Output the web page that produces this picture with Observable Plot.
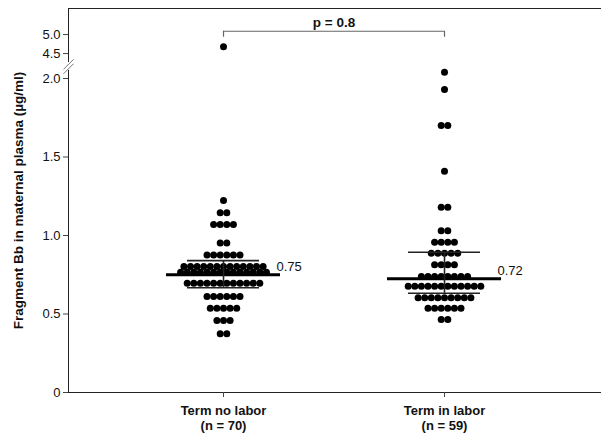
<!DOCTYPE html>
<html><head><meta charset="utf-8">
<script src="https://cdn.jsdelivr.net/npm/d3@7"></script>
<script src="https://cdn.jsdelivr.net/npm/@observablehq/plot@0.6"></script>
<style>
body{margin:0;background:#fff}
svg{font-family:"Liberation Sans",Arial,sans-serif}
</style>
</head><body><div id="chart"></div>
<script>
// ---- data ----
const groups = ["Term no labor", "Term in labor"];
const groupN = ["(n = 70)", "(n = 59)"];

const noLaborRowValues = [0.374, 0.459, 0.537, 0.611, 0.696, 0.766, 0.803, 0.876, 0.953, 1.07, 1.145, 1.223, 4.68];
const noLaborRowCounts = [2, 3, 5, 6, 12, 14, 13, 6, 2, 4, 2, 1, 1];

const inLaborRowValues = [0.465, 0.537, 0.603, 0.677, 0.739, 0.813, 0.887, 0.957, 1.03, 1.18, 1.41, 1.70, 1.93, 2.04];
const inLaborRowCounts = [2, 6, 9, 12, 8, 4, 5, 4, 2, 2, 1, 2, 1, 1];

const medians = [0.75, 0.724];
const q1s = [0.667, 0.632];
const q3s = [0.84, 0.893];
const medianLabels = ["0.75", "0.72"];
const pLabel = "p = 0.8";
const yTitle = "Fragment Bb in maternal plasma (µg/ml)";
const yTickValues = [0, 0.5, 1, 1.5, 2, 4.5, 5];
const yTickLabels = ["0", "0.5", "1.0", "1.5", "2.0", "4.5", "5.0"];

// ---- broken axis transform (lower segment linear, upper segment compressed) ----
const upperBase = 2.159, upperStart = 4.5, upperFactor = 0.242;
const T = v => v <= 3 ? v : upperBase + (v - upperStart) * upperFactor;
const yMax = 2.446;
const xDomain = [-0.7014, 1.7104];
const pxPerX = 221, pxPerY = 157;
const spacing = 6.6 / pxPerX;

function rows(values, counts, g) {
  const out = [];
  values.forEach((v, j) => {
    const n = counts[j];
    for (let i = 0; i < n; i++) out.push({g, x: g + (i - (n - 1) / 2) * spacing, y: T(v)});
  });
  return out;
}
const dots = [...rows(noLaborRowValues, noLaborRowCounts, 0), ...rows(inLaborRowValues, inLaborRowCounts, 1)];
const stats = groups.map((name, g) => ({g, median: medians[g], q1: q1s[g], q3: q3s[g], label: medianLabels[g]}));

const labelMap = new Map(yTickValues.map((v, i) => [T(v), yTickLabels[i]]));
const medHalf = 57 / pxPerX, iqrHalf = 36 / pxPerX;
const breakLow = 2.051, breakHigh = 2.102;
const slashDx = 5 / pxPerX, slashDy = 5 / pxPerY;
const slashes = [2.062, 2.09];
const bracketY = 2.301, bracketDrop = 6 / pxPerY;

const chart = Plot.plot({
  width: 601, height: 433,
  marginLeft: 68, marginRight: 0, marginTop: 8, marginBottom: 41,
  x: {domain: xDomain, axis: null},
  y: {domain: [0, yMax], axis: null},
  marks: [
    Plot.dot(dots, {x: "x", y: "y", r: 3.5, fill: "black", stroke: "none"}),
    Plot.ruleY(stats, {y: "median", x1: d => d.g - medHalf, x2: d => d.g + medHalf, stroke: "black", strokeWidth: 3}),
    Plot.ruleY(stats, {y: "q1", x1: d => d.g - iqrHalf, x2: d => d.g + iqrHalf, stroke: "#222", strokeWidth: 1.6}),
    Plot.ruleY(stats, {y: "q3", x1: d => d.g - iqrHalf, x2: d => d.g + iqrHalf, stroke: "#222", strokeWidth: 1.6}),
    Plot.ruleX(stats, {x: "g", y1: "q1", y2: "q3", stroke: "#222", strokeWidth: 1.6}),
    Plot.text(stats, {x: d => d.g + medHalf - 4 / pxPerX, y: "median", text: "label", textAnchor: "start", dy: -8, fontSize: 13, fill: "#111"}),
    // frame
    Plot.ruleY([0], {x1: xDomain[0], x2: xDomain[1], stroke: "#222"}),
    Plot.ruleY([yMax], {x1: xDomain[0], x2: xDomain[1], stroke: "#222"}),
    Plot.ruleX([xDomain[0]], {y1: 0, y2: breakLow, stroke: "#222"}),
    Plot.ruleX([xDomain[0]], {y1: breakHigh, y2: yMax, stroke: "#222"}),
    Plot.link(slashes, {x1: xDomain[0] - slashDx, y1: d => d - slashDy, x2: xDomain[0] + slashDx, y2: d => d + slashDy, stroke: "#777", strokeWidth: 1}),
    // axes
    Plot.axisY([...labelMap.keys()], {tickFormat: d => labelMap.get(d), tickSize: 5, tickPadding: 3, fontSize: 13, stroke: "#444", fill: "#111"}),
    Plot.axisX([0, 1], {tickFormat: d => groups[d] + "\n" + groupN[d], tickSize: 5, tickPadding: 6, fontSize: 13, fontWeight: "bold", stroke: "#444", fill: "#111", lineHeight: 1.2}),
    Plot.text([yTitle], {frameAnchor: "left", textAnchor: "middle", rotate: -90, dx: -50, fontSize: 13.5, fontWeight: "bold", fill: "#111"}),
    // p-value bracket
    Plot.ruleY([bracketY], {x1: 0, x2: 1, stroke: "#666", strokeWidth: 1.2}),
    Plot.ruleX([0, 1], {y1: bracketY, y2: bracketY - bracketDrop, stroke: "#666", strokeWidth: 1.2}),
    Plot.text([pLabel], {x: 0.5, y: bracketY, dy: -9, fontSize: 13.5, fontWeight: "bold", fill: "#111"})
  ]
});
document.getElementById("chart").appendChild(chart);
</script>
</body></html>
